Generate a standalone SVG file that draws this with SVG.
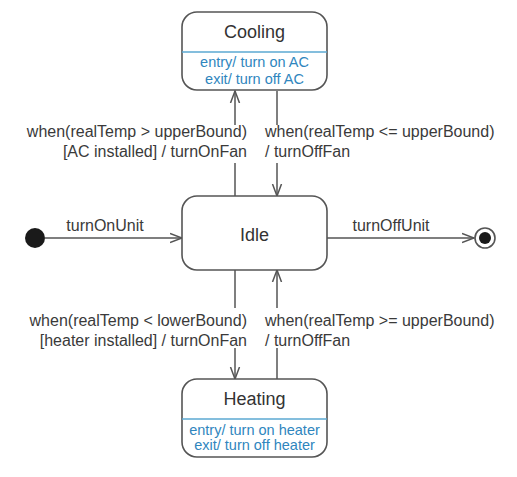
<svg xmlns="http://www.w3.org/2000/svg" width="517" height="477" viewBox="0 0 517 477">
<style>
.box{fill:#fff;stroke:#555;stroke-width:1.6}
.div{stroke:#5ba8d2;stroke-width:1.6}
.title{font-family:"Liberation Sans",Arial,sans-serif;font-size:18px;fill:#333;text-anchor:middle}
.act{font-family:"Liberation Sans",Arial,sans-serif;font-size:14.5px;fill:#2f86be;text-anchor:middle}
.lbl{font-family:"Liberation Sans",Arial,sans-serif;font-size:16px;fill:#3a3a3a}
.r{text-anchor:end}
.ln{fill:none;stroke:#555;stroke-width:1.5}
</style>
<defs>
<marker id="ah" markerWidth="14" markerHeight="12" refX="12" refY="6" orient="auto" markerUnits="userSpaceOnUse">
<path d="M0,1.5 L12,6 L0,10.5" fill="none" stroke="#555" stroke-width="1.5"/>
</marker>
</defs>
<g id="connectors">
<line class="ln" x1="45" y1="238" x2="182" y2="238" marker-end="url(#ah)"/>
<line class="ln" x1="327" y1="238" x2="474" y2="238" marker-end="url(#ah)"/>
<line class="ln" x1="235" y1="196" x2="235" y2="163"/>
<line class="ln" x1="235" y1="125" x2="235" y2="91" marker-end="url(#ah)"/>
<line class="ln" x1="277" y1="91" x2="277" y2="125"/>
<line class="ln" x1="277" y1="163" x2="277" y2="196" marker-end="url(#ah)"/>
<line class="ln" x1="235" y1="270" x2="235" y2="308"/>
<line class="ln" x1="235" y1="348" x2="235" y2="379" marker-end="url(#ah)"/>
<line class="ln" x1="277" y1="379" x2="277" y2="348"/>
<line class="ln" x1="277" y1="308" x2="277" y2="270" marker-end="url(#ah)"/>
<text class="lbl" x="105" y="231" text-anchor="middle">turnOnUnit</text>
<text class="lbl" x="391" y="231" text-anchor="middle">turnOffUnit</text>
<text class="lbl r" x="247" y="137">when(realTemp &gt; upperBound)</text>
<text class="lbl r" x="247" y="157">[AC installed] / turnOnFan</text>
<text class="lbl" x="265" y="137">when(realTemp &lt;= upperBound)</text>
<text class="lbl" x="265" y="157">/ turnOffFan</text>
<text class="lbl r" x="247" y="326">when(realTemp &lt; lowerBound)</text>
<text class="lbl r" x="247" y="346">[heater installed] / turnOnFan</text>
<text class="lbl" x="265" y="326">when(realTemp &gt;= upperBound)</text>
<text class="lbl" x="265" y="346">/ turnOffFan</text>
</g>
<g id="initial">
<circle cx="35" cy="238" r="10" fill="#1a1a1a"/>
</g>
<g id="final">
<circle cx="485" cy="238" r="10" fill="#fff" stroke="#555" stroke-width="1.6"/>
<circle cx="485" cy="238" r="6" fill="#1a1a1a"/>
</g>
<g id="cooling">
<rect class="box" x="182" y="12" width="145" height="78" rx="15"/>
<line class="div" x1="182" y1="52" x2="327" y2="52"/>
<text class="title" x="254.5" y="38">Cooling</text>
<text class="act" x="254.5" y="67">entry/ turn on AC</text>
<text class="act" x="254.5" y="84">exit/ turn off AC</text>
</g>
<g id="idle">
<rect class="box" x="182" y="196" width="145" height="74" rx="15"/>
<text class="title" x="254.5" y="241">Idle</text>
</g>
<g id="heating">
<rect class="box" x="182" y="379" width="145" height="78" rx="15"/>
<line class="div" x1="182" y1="419" x2="327" y2="419"/>
<text class="title" x="254.5" y="405">Heating</text>
<text class="act" x="254.5" y="435">entry/ turn on heater</text>
<text class="act" x="254.5" y="450">exit/ turn off heater</text>
</g>
</svg>
